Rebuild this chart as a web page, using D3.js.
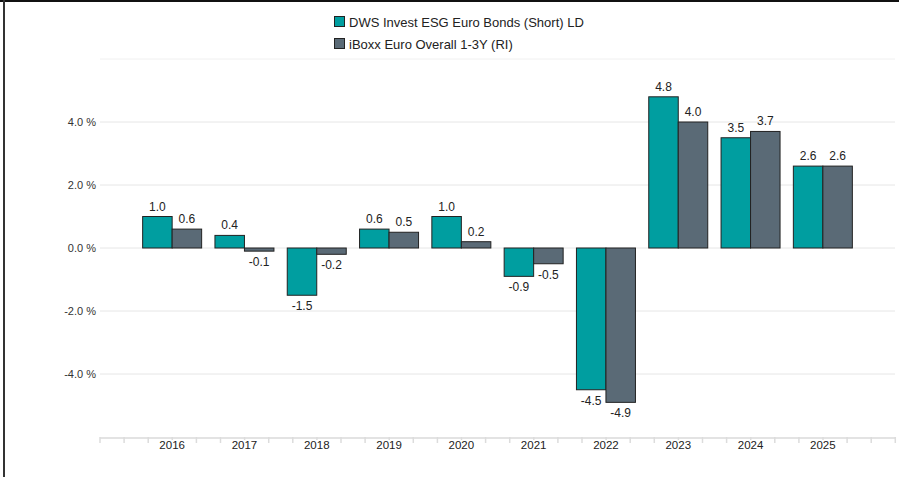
<!DOCTYPE html>
<html>
<head>
<meta charset="utf-8">
<script src="https://cdn.jsdelivr.net/npm/d3@7"></script>
<style>
    html, body { margin: 0; padding: 0; background: #fff; }
    svg { display: block; font-family: "Liberation Sans", Arial, sans-serif; }
</style>
</head>
<body>
<svg id="chart" width="899" height="477"></svg>
<script>
// Calendar-year performance, fund vs. benchmark

const years = ['2016', '2017', '2018', '2019', '2020', '2021', '2022', '2023', '2024', '2025'];
const fundValues = [1.0, 0.4, -1.5, 0.6, 1.0, -0.9, -4.5, 4.8, 3.5, 2.6];
const benchValues = [0.6, -0.1, -0.2, 0.5, 0.2, -0.5, -4.9, 4.0, 3.7, 2.6];
const seriesNames = ['DWS Invest ESG Euro Bonds (Short) LD', 'iBoxx Euro Overall 1-3Y (RI)'];
const yTicks = [-4, -2, 0, 2, 4];

const colors = ['#009ea0', '#5a6a76'];

const svg = d3.select('#chart');
const width = 899;
const height = 477;

const plotLeft = 100;
const plotRight = 895;

const x = d3.scaleBand()
    .domain(years)
    .range([136, 859])
    .paddingInner(0.184)
    .paddingOuter(0.092);

const xSub = d3.scaleBand()
    .domain([0, 1])
    .range([0, x.bandwidth()]);

const y = d3.scaleLinear()
    .domain([-6, 6])
    .range([437, 59]);

// frame lines
svg.append('line')
    .attr('x1', 0).attr('x2', width)
    .attr('y1', 1).attr('y2', 1)
    .attr('stroke', '#111').attr('stroke-width', 2);
svg.append('line')
    .attr('x1', 4).attr('x2', 4)
    .attr('y1', 0).attr('y2', height)
    .attr('stroke', '#333').attr('stroke-width', 2);

// gridlines
svg.append('g')
    .selectAll('line')
    .data([-4, -2, 0, 2, 4])
    .join('line')
    .attr('x1', plotLeft).attr('x2', plotRight)
    .attr('y1', d => y(d)).attr('y2', d => y(d))
    .attr('stroke', '#e6e6e6')
    .attr('stroke-width', 1);
svg.append('line')
    .attr('x1', plotLeft).attr('x2', plotRight)
    .attr('y1', y(6)).attr('y2', y(6))
    .attr('stroke', '#f0f0f0')
    .attr('stroke-width', 1);

// y labels
svg.append('g')
    .selectAll('text')
    .data(yTicks)
    .join('text')
    .attr('x', 96)
    .attr('y', d => y(d) + 4)
    .attr('text-anchor', 'end')
    .attr('font-size', 11)
    .attr('fill', '#333')
    .text(d => d.toFixed(1) + ' %');

// x axis line with minor ticks
const step = x.step();
svg.append('line')
    .attr('x1', plotLeft).attr('x2', plotRight)
    .attr('y1', y(-6) + 1).attr('y2', y(-6) + 1)
    .attr('stroke', '#e3e3e3').attr('stroke-width', 2);

svg.append('g')
    .selectAll('line')
    .data(d3.range(0, 34))
    .join('line')
    .attr('x1', i => plotLeft + i * step / 3)
    .attr('x2', i => plotLeft + i * step / 3)
    .attr('y1', y(-6))
    .attr('y2', y(-6) + 6)
    .attr('stroke', '#dcdcdc')
    .attr('stroke-width', 1.5);

// year labels
svg.append('g')
    .selectAll('text')
    .data(years)
    .join('text')
    .attr('x', d => x(d) + x.bandwidth() / 2)
    .attr('y', y(-6) + 12)
    .attr('text-anchor', 'middle')
    .attr('font-size', 11.5)
    .attr('fill', '#222')
    .text(d => d)
    .each(function () {
        // white box behind label hides the tick under it
        const bb = this.getBBox();
        d3.select(this.parentNode).insert('rect', () => this)
            .attr('x', bb.x - 2).attr('y', y(-6) + 3)
            .attr('width', bb.width + 4).attr('height', 6)
            .attr('fill', '#fff');
    });

// bars
const series = [fundValues, benchValues];
const barGroup = svg.append('g');
series.forEach((values, s) => {
    const rows = years.map((yr, i) => ({ year: yr, value: values[i] }));

    barGroup.append('g')
        .selectAll('rect')
        .data(rows)
        .join('rect')
        .attr('x', d => x(d.year) + xSub(s))
        .attr('y', d => y(Math.max(0, d.value)))
        .attr('width', xSub.bandwidth())
        .attr('height', d => Math.abs(y(d.value) - y(0)))
        .attr('fill', colors[s])
        .attr('stroke', '#222')
        .attr('stroke-width', 1);

    barGroup.append('g')
        .selectAll('text')
        .data(rows)
        .join('text')
        .attr('x', d => x(d.year) + xSub(s) + xSub.bandwidth() / 2)
        .attr('y', d => d.value >= 0 ? y(d.value) - 6 : y(d.value) + 15)
        .attr('text-anchor', 'middle')
        .attr('font-size', 12)
        .attr('fill', '#222')
        .text(d => d.value.toFixed(1));
});

// legend
const legend = svg.append('g').attr('transform', 'translate(334, 15)');
seriesNames.forEach((name, i) => {
    const row = legend.append('g').attr('transform', `translate(0, ${i * 22})`);
    row.append('rect')
        .attr('x', 0.5).attr('y', 1.5)
        .attr('width', 10).attr('height', 10)
        .attr('fill', colors[i])
        .attr('stroke', '#222');
    row.append('text')
        .attr('x', 15)
        .attr('y', 11.5)
        .attr('font-size', 13)
        .attr('fill', '#222')
        .text(name);
});
</script>
</body>
</html>
